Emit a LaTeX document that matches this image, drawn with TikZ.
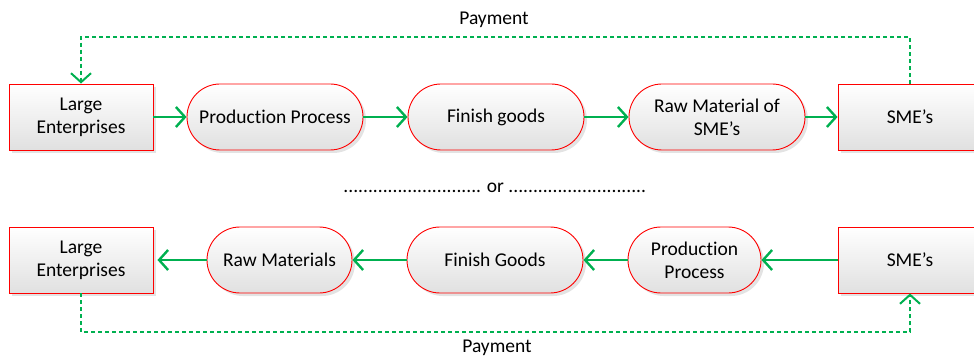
\documentclass[tikz,border=0pt]{standalone}
\usepackage{fontspec}
\setmainfont{Carlito}[Ligatures=NoCommon]
\usetikzlibrary{arrows.meta,shadows}
\definecolor{flowgreen}{RGB}{0,176,80}
\definecolor{boxred}{RGB}{255,0,0}
\tikzset{
  box/.style={draw=boxred, line width=0.9pt, top color=white, bottom color=black!12,
    minimum height=66pt, inner sep=2pt, align=center,
    drop shadow={opacity=0.22, shadow xshift=3pt, shadow yshift=-3pt}},
  ent/.style={box, minimum width=144pt},
  proc/.style={box, rounded corners=33pt},
  flow/.style={draw=flowgreen, line width=2.4pt, -{Straight Barb[length=9pt,width=20pt]}},
  pay/.style={draw=flowgreen, line width=2pt, dash pattern=on 4pt off 3pt,
    -{Straight Barb[length=9pt,width=20pt]}}
}
\begin{document}
\begin{tikzpicture}[x=1pt,y=-1pt,font=\fontsize{19.5}{23}\selectfont]
\useasboundingbox (0,0) rectangle (974,358);
% upper chain
\node[ent] (le1) at (81,117) {Large\\Enterprises};
\node[proc, minimum width=176pt] (pp1) at (275,117) {Production Process};
\node[proc, minimum width=176pt] (fg1) at (496,117) {Finish goods};
\node[proc, minimum width=176pt] (rm1) at (717,117) {Raw Material of\\SME’s};
\node[ent] (sme1) at (910,117) {SME’s};
\draw[flow] (le1) -- (pp1);
\draw[flow] (pp1) -- (fg1);
\draw[flow] (fg1) -- (rm1);
\draw[flow] (rm1) -- (sme1);
\draw[pay] (sme1.north) -- ++(0,-47) -| (le1.north);
\node (pay1) at (494,20) {Payment};
% separator
\node (or) at (495,188) {............................ or ............................};
% lower chain
\node[ent] (le2) at (81,260) {Large\\Enterprises};
\node[proc, minimum width=145pt] (rm2) at (279.5,260) {Raw Materials};
\node[proc, minimum width=176pt] (fg2) at (495,260) {Finish Goods};
\node[proc, minimum width=133pt] (pp2) at (694.5,260) {Production\\Process};
\node[ent] (sme2) at (910,260) {SME’s};
\draw[flow, shorten >=4pt] (rm2) -- (le2);
\draw[flow] (fg2) -- (rm2);
\draw[flow] (pp2) -- (fg2);
\draw[flow] (sme2) -- (pp2);
\draw[pay] (le2.south) -- ++(0,39) -| (sme2.south);
\node (pay2) at (497,348) {Payment};
\end{tikzpicture}
\end{document}
